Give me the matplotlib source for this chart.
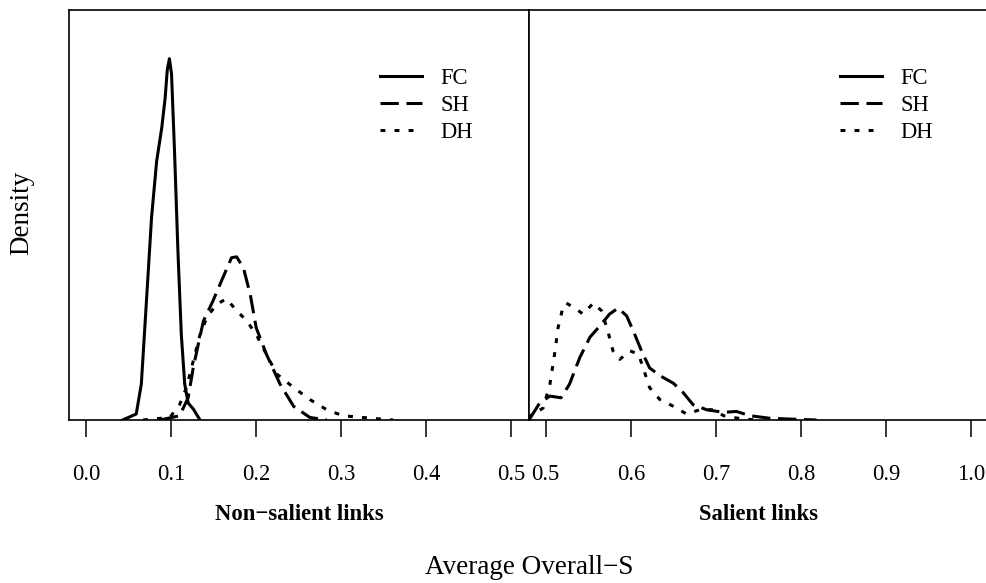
import matplotlib
matplotlib.use("Agg")
import matplotlib.pyplot as plt
from matplotlib.lines import Line2D

plt.rcParams['font.family'] = ['Liberation Serif', 'DejaVu Serif']
plt.rcParams['font.size'] = 16

# kernel density estimates of average overall-S, non-salient links
fc_x = [0.043, 0.059, 0.065, 0.071, 0.077, 0.083, 0.089, 0.093, 0.0955, 0.098,
        0.1005, 0.104, 0.108, 0.112, 0.116, 0.120, 0.126, 0.134]
fc_y = [0.0, 0.7, 4.2, 13.9, 23.7, 30.3, 34.2, 37.7, 41.0, 42.3,
        40.5, 31.5, 19.8, 10.0, 4.2, 2.0, 1.3, 0.0]

sh_x = [0.087, 0.110, 0.120, 0.126, 0.132, 0.138, 0.149, 0.161, 0.171, 0.177,
        0.185, 0.193, 0.200, 0.212, 0.228, 0.244, 0.263, 0.283]
sh_y = [0.0, 0.5, 2.6, 6.1, 8.9, 11.6, 13.9, 16.7, 19.0, 19.1,
        17.8, 14.7, 10.8, 7.7, 4.2, 1.6, 0.3, 0.0]

dh_x = [0.067, 0.0985, 0.110, 0.118, 0.126, 0.134, 0.142, 0.153, 0.165, 0.177,
        0.189, 0.200, 0.212, 0.224, 0.244, 0.263, 0.283, 0.302, 0.342, 0.361]
dh_y = [0.0, 0.3, 1.8, 3.8, 6.9, 10.0, 12.0, 13.5, 14.2, 12.8,
        11.6, 10.0, 7.7, 5.4, 3.8, 2.4, 1.2, 0.5, 0.15, 0.0]

# salient links
sal_sh_x = [0.481, 0.493, 0.505, 0.518, 0.528, 0.540, 0.552, 0.5635, 0.575, 0.585,
            0.595, 0.603, 0.6125, 0.622, 0.634, 0.650, 0.6615, 0.673, 0.689, 0.709,
            0.724, 0.740, 0.7635, 0.790, 0.818]
sal_sh_y = [0.1, 2.0, 2.8, 2.6, 4.2, 7.3, 9.7, 11.0, 12.4, 13.1,
            12.2, 10.4, 8.1, 6.1, 5.2, 4.3, 3.2, 1.8, 1.2, 0.9,
            1.0, 0.5, 0.2, 0.1, 0.0]

sal_dh_x = [0.479, 0.497, 0.505, 0.511, 0.5145, 0.520, 0.524, 0.534, 0.544, 0.556,
            0.5655, 0.573, 0.579, 0.587, 0.599, 0.609, 0.6145, 0.622, 0.634, 0.650,
            0.6655, 0.681, 0.697, 0.709, 0.732, 0.750]
sal_dh_y = [0.3, 1.4, 4.2, 8.1, 10.8, 13.1, 13.7, 13.1, 12.4, 13.7,
            12.8, 10.4, 8.1, 7.1, 8.1, 7.7, 6.1, 3.8, 2.4, 1.6,
            0.7, 1.2, 1.2, 0.5, 0.1, 0.0]

left_ticks = [0.0, 0.1, 0.2, 0.3, 0.4, 0.5]
right_ticks = [0.5, 0.6, 0.7, 0.8, 0.9, 1.0]
groups = ["FC", "SH", "DH"]

LW = 2.2
styles = {
    "FC": dict(linestyle="-"),
    "SH": dict(dashes=(6, 2.5)),
    "DH": dict(dashes=(1.6, 3.0)),
}

W, H = 987, 583
fig = plt.figure(figsize=(W / 100, H / 100), dpi=100)

bottom = (H - 420) / H
height = 410 / H
ax1 = fig.add_axes([69 / W, bottom, (529 - 69) / W, height])
ax2 = fig.add_axes([529 / W, bottom, (989 - 529) / W, height])

ax1.plot(fc_x, fc_y, color="black", lw=LW, **styles["FC"])
ax1.plot(sh_x, sh_y, color="black", lw=LW, **styles["SH"])
ax1.plot(dh_x, dh_y, color="black", lw=LW, **styles["DH"])

ax2.plot(sal_sh_x, sal_sh_y, color="black", lw=LW, **styles["SH"])
ax2.plot(sal_dh_x, sal_dh_y, color="black", lw=LW, **styles["DH"])

ax1.set_xlim(-0.02, 0.5206)
ax2.set_xlim(0.4804, 1.0206)

for ax, ticks in ((ax1, left_ticks), (ax2, right_ticks)):
    ax.set_ylim(0, 48)
    ax.set_yticks([])
    ax.set_xticks(ticks)
    ax.set_xticklabels(["%.1f" % t for t in ticks])
    ax.tick_params(axis="x", direction="out", length=12, width=1.1, pad=20, labelsize=16.3)
    for s in ax.spines.values():
        s.set_linewidth(1.2)

    handles = [Line2D([], [], color="black", lw=LW, **styles[g]) for g in groups]
    ax.legend(handles, groups, loc="upper left", frameon=False,
              bbox_to_anchor=(0.676, 0.858),
              borderpad=0, borderaxespad=0, handlelength=1.86,
              handletextpad=0.8, labelspacing=0.26, fontsize=16.3)

ax2.spines["right"].set_visible(False)

fig.text(299 / W, (H - 515) / H, "Non\u2212salient links", ha="center", va="center",
         fontweight="bold", fontsize=16.3)
fig.text(759 / W, (H - 515) / H, "Salient links", ha="center", va="center",
         fontweight="bold", fontsize=16.3)
fig.text(529 / W, (H - 567) / H, "Average Overall\u2212S", ha="center", va="center",
         fontsize=19.5)
fig.text(22 / W, (H - 213) / H, "Density", ha="center", va="center",
         rotation=90, fontsize=19.5)

fig.savefig("out.png", dpi=100)
